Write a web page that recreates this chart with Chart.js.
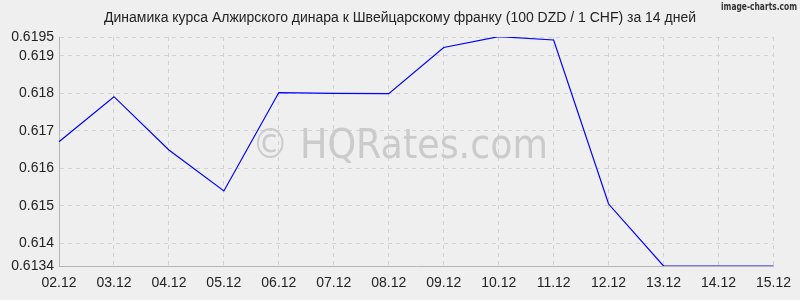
<!DOCTYPE html>
<html>
<head>
<meta charset="utf-8">
<script src="https://cdn.jsdelivr.net/npm/chart.js@4/dist/chart.umd.min.js"></script>
<style>
  html, body { margin: 0; padding: 0; background: #efefef; }
  #wrap { width: 800px; height: 300px; position: relative; }
</style>
</head>
<body>
<div id="wrap"><canvas id="rate-chart"></canvas></div>
<script>
// Data
const days = ['02.12', '03.12', '04.12', '05.12', '06.12', '07.12', '08.12',
  '09.12', '10.12', '11.12', '12.12', '13.12', '14.12', '15.12'];
const rates = [0.61671, 0.61791, 0.61649, 0.6154, 0.61802, 0.618, 0.61799,
  0.61922, 0.61951, 0.61942, 0.61505, 0.6134, 0.6134, 0.6134];
const yTicks = [0.6134, 0.614, 0.615, 0.616, 0.617, 0.618, 0.619, 0.6195];
const yMin = 0.6134;
const yMax = 0.6195;
const titleText = 'Динамика курса Алжирского динара к Швейцарскому франку (100 DZD / 1 CHF) за 14 дней';

const FONT = '"Liberation Sans", Arial, sans-serif';

// title, watermark and brand text
const decor = {
  id: 'decor',
  beforeDatasetsDraw(chart) {
    const c = chart.ctx;
    c.save();
    c.fillStyle = '#cbcbcb';
    c.font = '40px "DejaVu Sans", sans-serif';
    c.textAlign = 'center';
    c.textBaseline = 'middle';
    c.fillText('© HQRates.com', 400, 148, 296);
    c.restore();
  },
  afterDraw(chart) {
    const c = chart.ctx;
    c.save();
    c.fillStyle = '#222';
    c.font = '14px ' + FONT;
    c.textAlign = 'center';
    c.textBaseline = 'middle';
    c.fillText(titleText, 400, 18, 592);
    c.fillStyle = '#333';
    c.font = 'bold 11px "DejaVu Sans Condensed", sans-serif';
    c.textAlign = 'right';
    c.fillText('image-charts.com', 797, 7, 76);
    c.restore();
  }
};

new Chart(document.getElementById('rate-chart').getContext('2d'), {
  type: 'line',
  data: {
    labels: days,
    datasets: [{
      data: rates,
      borderColor: '#0000ff',
      borderWidth: 1.2,
      pointRadius: 0,
      tension: 0,
      fill: false
    }]
  },
  options: {
    responsive: true,
    maintainAspectRatio: false,
    animation: false,
    layout: { padding: { top: 37, right: 21, left: 0, bottom: 0 } },
    plugins: {
      legend: { display: false },
      title: { display: false },
      tooltip: { enabled: false }
    },
    scales: {
      x: {
        offset: false,
        afterFit: s => { s.height = 34; },
        ticks: {
          color: '#222',
          font: { family: FONT, size: 14 },
          padding: 9,
          maxRotation: 0,
          autoSkip: false
        },
        grid: { color: '#d2d2d2', drawTicks: false },
        border: { dash: [4, 4], color: '#b5b5b5' }
      },
      y: {
        min: yMin,
        max: yMax,
        afterFit: s => { s.width = 59; },
        afterBuildTicks: s => { s.ticks = yTicks.map(v => ({ value: v })); },
        ticks: {
          color: '#222',
          font: { family: FONT, size: 14 },
          padding: 5,
          callback: v => String(v)
        },
        grid: { color: '#d2d2d2', drawTicks: false },
        border: { dash: [4, 4], color: '#b5b5b5' }
      }
    }
  },
  plugins: [decor]
});
</script>
</body>
</html>
